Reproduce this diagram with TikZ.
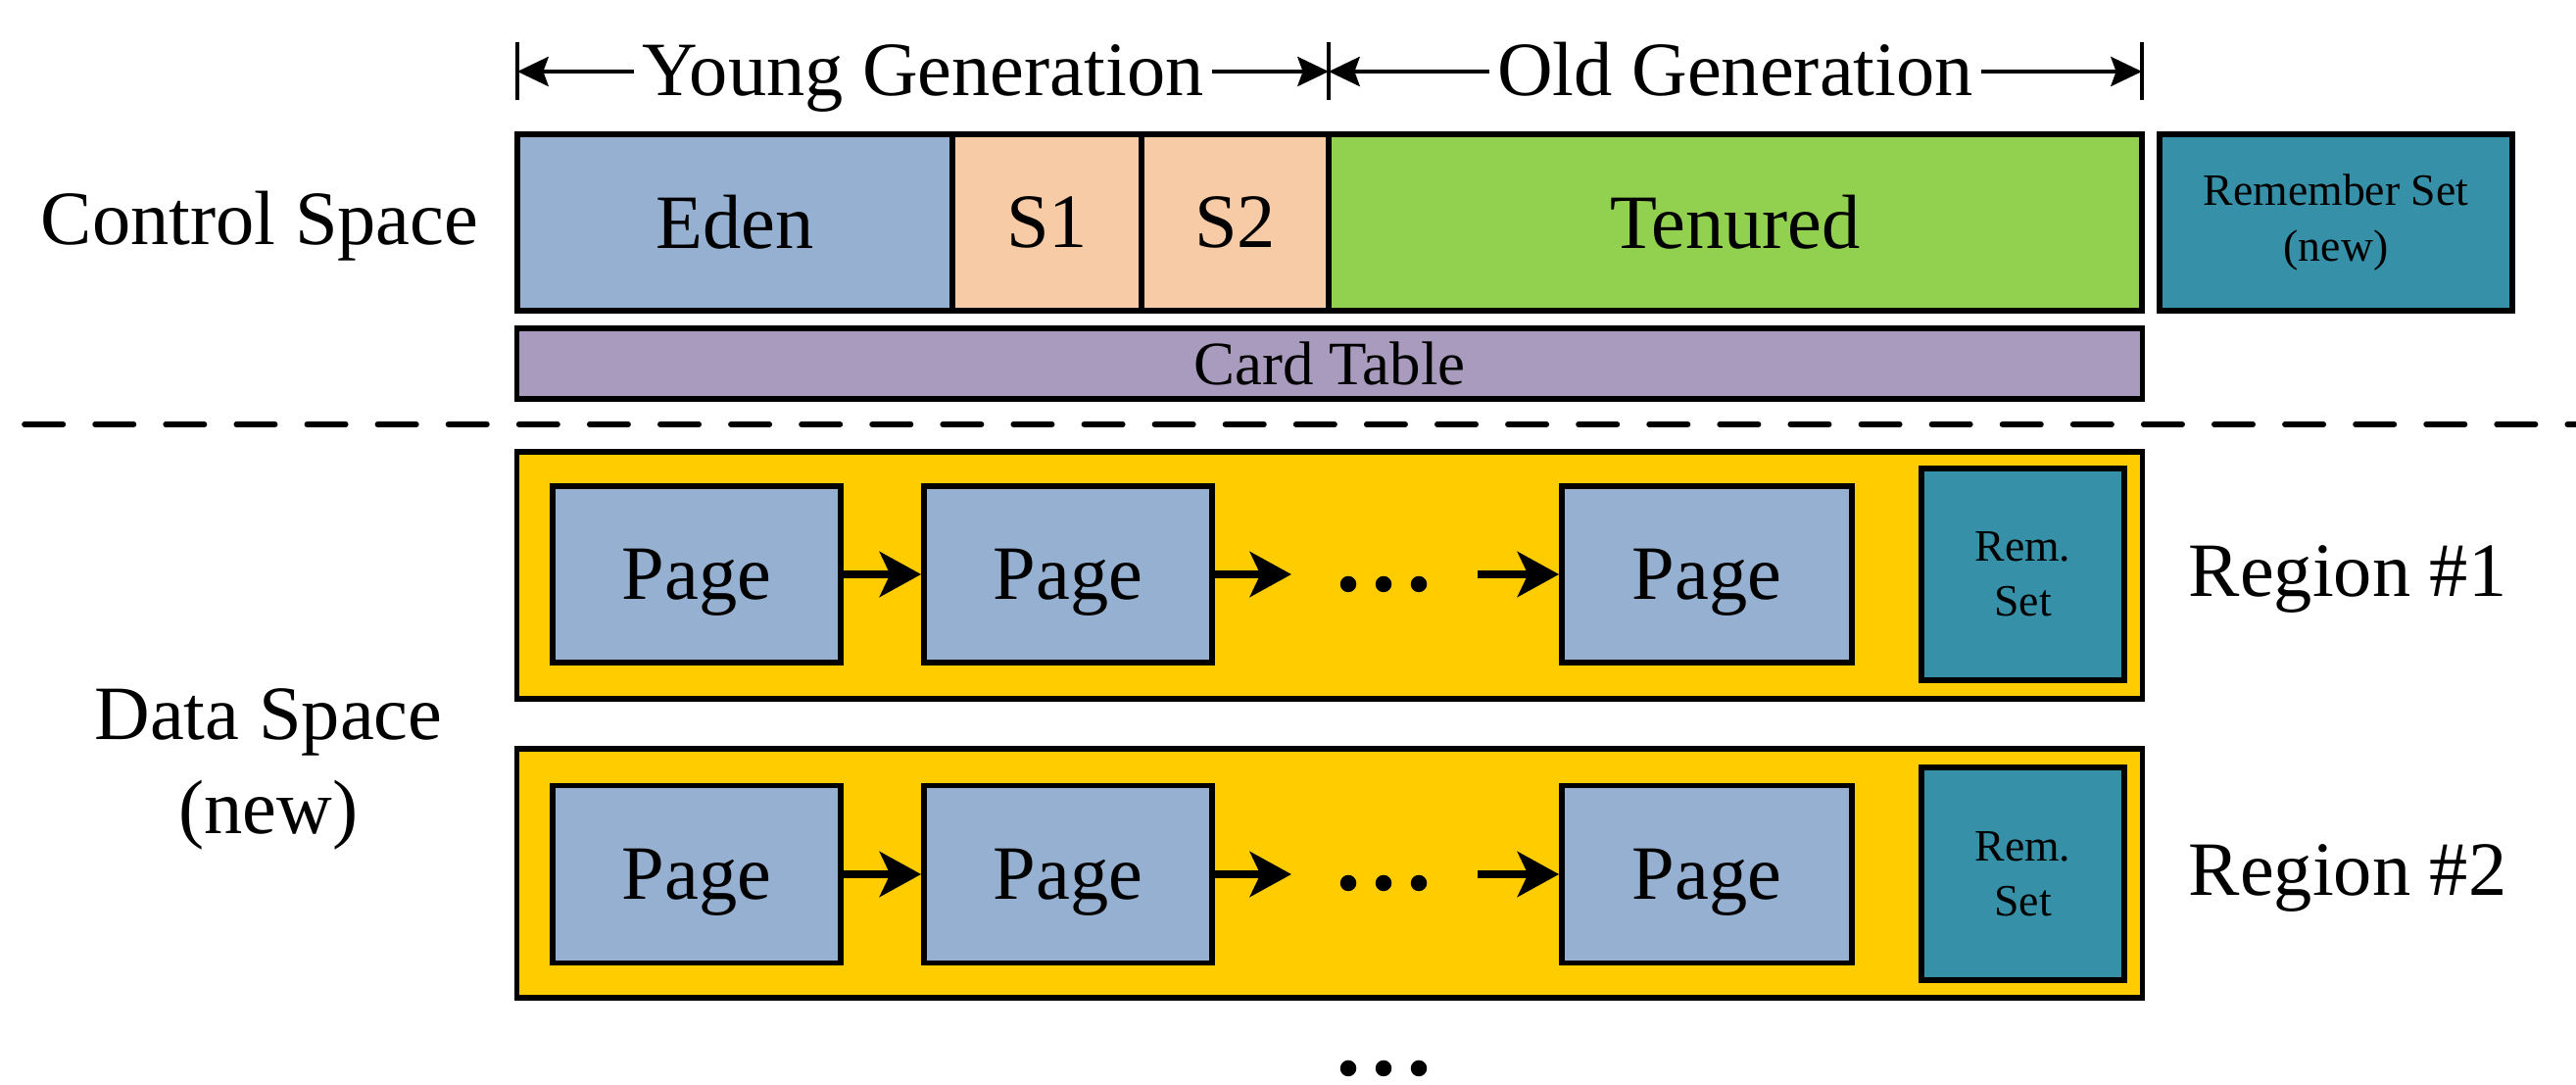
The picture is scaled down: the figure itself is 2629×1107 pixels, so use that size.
\documentclass[tikz,border=0pt]{standalone}
\usepackage{fontspec}
\setmainfont{Liberation Serif}
\usetikzlibrary{arrows.meta}
\newcommand{\fbig}{\fontsize{22.3pt}{27.3pt}\selectfont}
\newcommand{\fmid}{\fontsize{17.9pt}{21pt}\selectfont}
\newcommand{\fsml}{\fontsize{13pt}{16pt}\selectfont}
\definecolor{cblue}{RGB}{149,176,208}
\definecolor{cpeach}{RGB}{248,203,167}
\definecolor{cgreen}{RGB}{146,208,80}
\definecolor{cteal}{RGB}{54,144,168}
\definecolor{cpurple}{RGB}{169,155,190}
\definecolor{cyellow}{RGB}{255,204,0}
\tikzset{
  box/.style={draw, line width=1.6pt, inner sep=0pt, align=center, font=\fbig},
  pagebox/.style={box, fill=cblue, minimum height=1.80cm, text depth=0pt},
  rembox/.style={box, fill=cteal, font=\fsml},
  regionbox/.style={box, fill=cyellow, minimum width=16.58cm},
  lbl/.style={inner sep=2pt, font=\fbig},
  parrow/.style={line width=2.4pt, -{Stealth[length=12pt,width=13pt,inset=3pt]}},
  dimarrow/.style={line width=1.3pt, -{Stealth[length=9pt,width=8.5pt,inset=1.5pt]}},
  tick/.style={line width=1.4pt},
  sep/.style={line width=1.6pt, line cap=round, dash pattern=on 11.2pt off 9.3pt},
  ellipsisdot/.style={circle, fill=black, inner sep=0pt, minimum size=0.165cm}
}
\begin{document}
\begin{tikzpicture}[x=0.01cm,y=-0.01cm]
\useasboundingbox (0,0) rectangle (2629,1107);

% dimension lines
\draw[tick] (528,43) -- (528,102);
\draw[tick] (1356,43) -- (1356,102);
\draw[tick] (2186,43) -- (2186,102);
\coordinate (yl) at (528,73);
\coordinate (ym) at (1356,73);
\coordinate (yr) at (2186,73);
\node[lbl, anchor=base] (yg) at (942,98) {Young Generation};
\node[lbl, anchor=base] (og) at (1771,98) {Old Generation};
\draw[dimarrow] (yg.west |- yl) -- (yl);
\draw[dimarrow] (yg.east |- ym) -- (ym);
\draw[dimarrow] (og.west |- ym) -- (ym);
\draw[dimarrow] (og.east |- yr) -- (yr);

% control space
\node[lbl, anchor=base] (cs) at (265,250) {Control Space};
\node[box, fill=cblue, minimum width=4.44cm, minimum height=1.80cm] (eden) at (750,227) {Eden};
\node[box, fill=cpeach, minimum width=1.93cm, minimum height=1.80cm] (s1) at (1068.5,227) {S1};
\node[box, fill=cpeach, minimum width=1.91cm, minimum height=1.80cm] (s2) at (1260.5,227) {S2};
\node[box, fill=cgreen, minimum width=8.30cm, minimum height=1.80cm] (ten) at (1771,227) {Tenured};
\node[rembox, minimum width=3.60cm, minimum height=1.80cm] (rst) at (2384,227) {Remember Set\\(new)};
\node[box, fill=cpurple, font=\fmid, minimum width=16.58cm, minimum height=0.72cm] (card) at (1357,371) {Card Table};

% separator
\draw[sep] (25,433) -- (2629,433);

% data space
\node[lbl, align=center] (ds) at (274,785) {Data Space\\(new)};

% region 1
\node[regionbox, minimum height=2.52cm] (reg1) at (1357,587) {};
\node[pagebox, minimum width=2.94cm] (p11) at (711,586) {Page};
\node[pagebox, minimum width=2.94cm] (p12) at (1090,586) {Page};
\node[pagebox, minimum width=2.96cm] (p13) at (1742,586) {Page};
\node[rembox, minimum width=2.07cm, minimum height=2.16cm] (rs1) at (2064.5,586) {Rem.\\Set};
\coordinate (a12) at (1318,586);
\coordinate (a13) at (1508,586);
\draw[parrow] (p11) -- (p12);
\draw[parrow] (p12) -- (a12);
\draw[parrow] (a13) -- (p13);
\node[ellipsisdot] (d11) at (1376,596) {};
\node[ellipsisdot] (d12) at (1412,596) {};
\node[ellipsisdot] (d13) at (1448,596) {};
\node[lbl, anchor=base west] (r1) at (2226,609) {Region \#1};

% region 2
\node[regionbox, minimum height=2.54cm] (reg2) at (1357,891) {};
\node[pagebox, minimum width=2.94cm, minimum height=1.81cm] (p21) at (711,892) {Page};
\node[pagebox, minimum width=2.94cm, minimum height=1.81cm] (p22) at (1090,892) {Page};
\node[pagebox, minimum width=2.96cm, minimum height=1.81cm] (p23) at (1742,892) {Page};
\node[rembox, minimum width=2.07cm, minimum height=2.17cm] (rs2) at (2064.5,891.5) {Rem.\\Set};
\coordinate (a22) at (1318,892);
\coordinate (a23) at (1508,892);
\draw[parrow] (p21) -- (p22);
\draw[parrow] (p22) -- (a22);
\draw[parrow] (a23) -- (p23);
\node[ellipsisdot] (d21) at (1376,901) {};
\node[ellipsisdot] (d22) at (1412,901) {};
\node[ellipsisdot] (d23) at (1448,901) {};
\node[lbl, anchor=base west] (r2) at (2226,914) {Region \#2};

% more regions
\node[ellipsisdot] (d31) at (1376,1090) {};
\node[ellipsisdot] (d32) at (1412,1090) {};
\node[ellipsisdot] (d33) at (1448,1090) {};
\end{tikzpicture}
\end{document}
